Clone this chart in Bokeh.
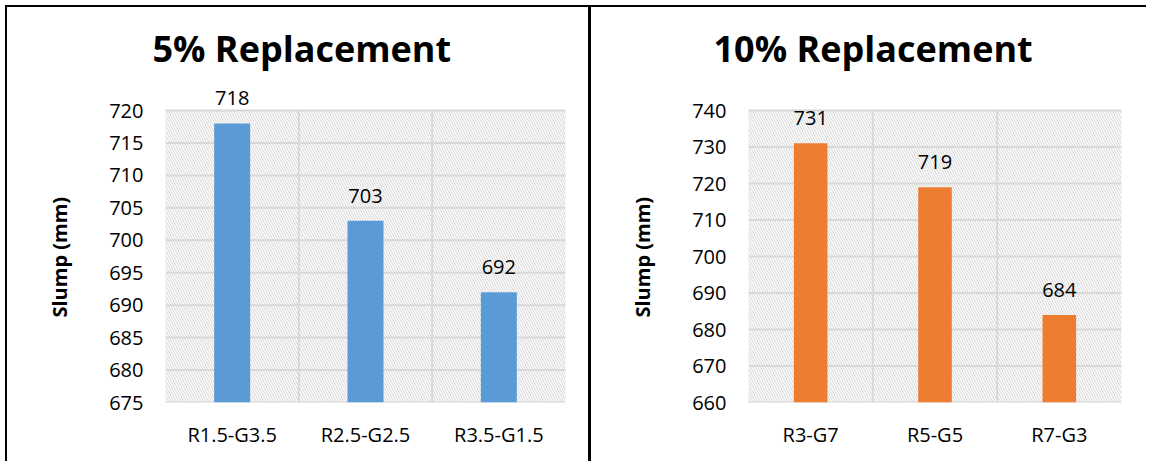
from bokeh.plotting import figure
from bokeh.layouts import row
from bokeh.models import (ColumnDataSource, FixedTicker, Range1d, Label, Title,
                          BoxAnnotation)
from bokeh.embed import file_html
from bokeh.resources import INLINE

# ---- data ----
titles = ["5% Replacement", "10% Replacement"]
cats_5 = ["R1.5-G3.5", "R2.5-G2.5", "R3.5-G1.5"]
slump_5 = [718, 703, 692]
cats_10 = ["R3-G7", "R5-G5", "R7-G3"]
slump_10 = [731, 719, 684]
yticks_5 = [675, 680, 685, 690, 695, 700, 705, 710, 715, 720]
yticks_10 = [660, 670, 680, 690, 700, 710, 720, 730, 740]
y_label = "Slump (mm)"

FONT = "Open Sans"
GRID = "#d9d9d9"
PLOT_PX = 292    # pixel height of the gridded plot area
HEAD_PX = 25     # extra room above it (inside the frame) for value labels


def panel(title, cats, vals, yticks, color, width, height, mb_left, mb_right, title_off):
    n = len(cats)
    xs = [i + 0.5 for i in range(n)]
    ylo, yhi = yticks[0], yticks[-1]
    pad = (yhi - ylo) * HEAD_PX / PLOT_PX
    src = ColumnDataSource(dict(x=xs, top=vals))
    p = figure(width=width, height=height, output_backend="svg", toolbar_location=None,
               x_range=Range1d(0, n), y_range=Range1d(ylo, yhi + pad),
               min_border_left=mb_left, min_border_right=mb_right,
               min_border_top=78, min_border_bottom=61)
    p.title.visible = False
    p.background_fill_color = "white"
    p.border_fill_color = "white"
    p.outline_line_color = None
    p.xgrid.visible = False
    p.ygrid.visible = False

    # hatched, outlined plot area
    area = BoxAnnotation(left=0, right=n, bottom=ylo, top=yhi,
                         fill_color=None, line_color=GRID, line_width=2,
                         hatch_pattern="\\", hatch_color="#d4d4d4", hatch_scale=5,
                         hatch_weight=1, level="image")
    p.add_layout(area)

    # grid lines
    p.segment(x0=0, x1=n, y0=yticks, y1=yticks, line_color=GRID, line_width=2)
    p.segment(x0=list(range(1, n)), x1=list(range(1, n)), y0=ylo, y1=yhi,
              line_color=GRID, line_width=2)

    p.vbar(x="x", top="top", bottom=ylo, width=0.27, source=src,
           fill_color=color, line_color=None)

    for x, v in zip(xs, vals):
        p.add_layout(Label(x=x, y=v, text=str(v), text_align="center",
                           text_baseline="alphabetic", y_offset=25, text_font=FONT,
                           text_font_size="20px", text_color="#000000"))

    # axes
    p.xaxis.ticker = FixedTicker(ticks=xs)
    p.xaxis.major_label_overrides = {x: c for x, c in zip(xs, cats)}
    p.yaxis.ticker = FixedTicker(ticks=yticks)
    for ax in (p.xaxis[0], p.yaxis[0]):
        ax.axis_line_color = None
        ax.major_tick_line_color = None
        ax.minor_tick_line_color = None
        ax.major_tick_in = 0
        ax.major_tick_out = 0
        ax.major_label_text_font = FONT
        ax.major_label_text_font_size = "20px"
        ax.major_label_text_color = "#000000"
    p.xaxis.major_label_standoff = 18
    p.yaxis.major_label_standoff = 22

    ylab = Title(text=y_label, align="left", offset=85, standoff=68,
                 vertical_align="bottom", text_font=FONT, text_font_size="20px",
                 text_font_style="bold", text_color="#000000")
    p.add_layout(ylab, "left")

    t = Title(text=title, align="left", offset=title_off, standoff=26,
              text_font=FONT, text_font_size="36px", text_font_style="bold",
              text_color="#000000")
    p.add_layout(t, "above")
    return p


p1 = panel(titles[0], cats_5, slump_5, yticks_5, "#5B9BD5", 586, 456, 158, 28, -13)
p2 = panel(titles[1], cats_10, slump_10, yticks_10, "#ED7D31", 555, 456, 157, 25, -35)

p1.styles = {"border-top": "2px solid black", "border-left": "2px solid black",
             "border-right": "3px solid black"}
p2.styles = {"border-top": "2px solid black"}

layout = row(p1, p2, styles={"margin-left": "5px", "margin-top": "5px"})

open("out.html", "w").write(file_html(layout, INLINE))
